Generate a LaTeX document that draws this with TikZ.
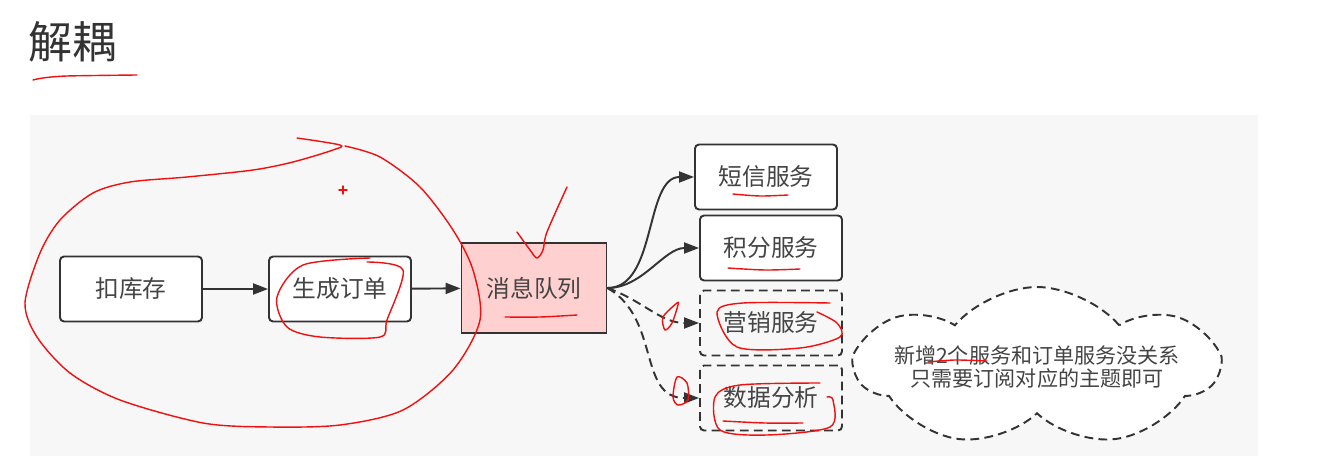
\documentclass[tikz,border=0pt]{standalone}
\usepackage{fontspec}
\setmainfont{Noto Sans CJK SC}
\usetikzlibrary{arrows.meta,shapes.symbols}
\definecolor{panelgray}{HTML}{F7F7F7}
\definecolor{linegray}{HTML}{333333}
\definecolor{textgray}{HTML}{444444}
\definecolor{mqpink}{HTML}{FFD0D0}
\definecolor{pen}{HTML}{F01010}

\tikzset{
  svc/.style={draw=linegray,line width=1.1pt,rounded corners=0.08cm,fill=white,
    minimum width=2.84cm,minimum height=1.3cm,text=textgray,font=\fontsize{13.5}{16}\selectfont},
  svcdash/.style={svc,dashed,fill=none,dash pattern=on 5pt off 3pt},
  link/.style={draw=linegray,line width=1.1pt,-{Triangle[length=0.3cm,width=0.22cm]}},
  scribble/.style={draw=pen,line width=0.8pt,line join=round,line cap=round}
}

\begin{document}
\begin{tikzpicture}[x=0.02cm,y=-0.02cm]
  \useasboundingbox (0,0) rectangle (1333,456);
  \fill[panelgray] (30,115) rectangle (1258,456);

  % title
  \node[text=linegray,font=\fontsize{25}{28}\selectfont] (title) at (72,42) {解耦};

  % order side
  \node[svc] (kucun) at (131,289) {扣库存};
  \node[svc] (dingdan) at (340,289) {生成订单};
  \node[svc,fill=mqpink,rounded corners=0pt,minimum width=2.9cm,minimum height=1.8cm] (mq) at (534,288) {消息队列};

  % subscribers
  \node[svc] (duanxin) at (766,177) {短信服务};
  \node[svc] (jifen) at (771,248) {积分服务};
  \node[svcdash] (yingxiao) at (771,323) {营销服务};
  \node[svcdash] (shuju) at (771,398) {数据分析};

  \node[cloud,cloud puffs=7,cloud puff arc=100,cloud ignores aspect,draw=linegray,line width=1.1pt,
    dash pattern=on 5pt off 3pt,fill=white,inner xsep=-1.1cm,inner ysep=-0.1cm,
    minimum width=7.2cm,minimum height=3.2cm,
    align=center,text=textgray,font=\fontsize{12}{13.5}\selectfont] (note) at (1037,367)
    {新增2个服务和订单服务没关系\\只需要订阅对应的主题即可};

  \draw[link] (kucun) -- (dingdan);
  \draw[link] (dingdan) -- (mq);
  \draw[link] (mq.east) to[out=0,in=180,looseness=0.9] (duanxin.west);
  \draw[link] (mq.east) to[out=0,in=180,looseness=0.9] (jifen.west);
  \draw[link,dash pattern=on 5pt off 3pt] (mq.east) to[out=-20,in=180] (yingxiao.west);
  \draw[link,dash pattern=on 5pt off 3pt] (mq.east) to[out=-30,in=180,looseness=1.1] (shuju.west);

  % red pen marks
  \draw[scribble] plot[smooth] coordinates {(33,80) (43,78) (67,76) (137,75)};
  \draw[scribble] plot[smooth] coordinates {(297,138) (340,145) (333,150) (293,162) (253,170) (187,177)
    (130,182) (93,193) (60,220) (40,253) (25,303) (37,337) (70,373) (120,400) (203,423) (270,427)
    (340,425) (403,410) (453,370) (480,320) (473,270) (453,230) (420,187) (380,157) (345,146)};
  \draw[scribble] (339,190) -- (347,190) (343,186) -- (343,194);
  \draw[scribble] plot[smooth] coordinates {(370,258) (303,265) (277,297) (287,327) (320,337)
    (380,337) (387,320) (403,270) (367,262)};
  \draw[scribble] plot[smooth] coordinates {(517,232) (530,250) (537,258) (543,250) (547,232) (567,187)};
  \draw[scribble] plot[smooth] coordinates {(505,317) (540,317) (577,315)};
  \draw[scribble] plot[smooth] coordinates {(733,194) (760,196) (788,195)};
  \draw[scribble] plot[smooth] coordinates {(728,268) (765,270) (800,269)};
  \draw[scribble] plot[smooth] coordinates {(830,303) (743,303) (717,312) (737,347) (800,348)
    (840,337) (837,323) (817,312)};
  \draw[scribble] plot[smooth] coordinates {(820,383) (740,385) (715,397) (720,430) (767,435)
    (830,427) (833,400) (827,397)};
  \draw[scribble] plot[smooth] coordinates {(723,421) (765,423) (803,423)};
  \draw[scribble] plot[smooth cycle] coordinates {(677,303) (663,317) (665,330) (672,323) (678,305)};
  \draw[scribble] plot[smooth cycle] coordinates {(677,377) (673,397) (678,405) (688,400) (687,383)};
  \draw[scribble] plot[smooth] coordinates {(928,362) (955,360) (987,361)};
\end{tikzpicture}
\end{document}
